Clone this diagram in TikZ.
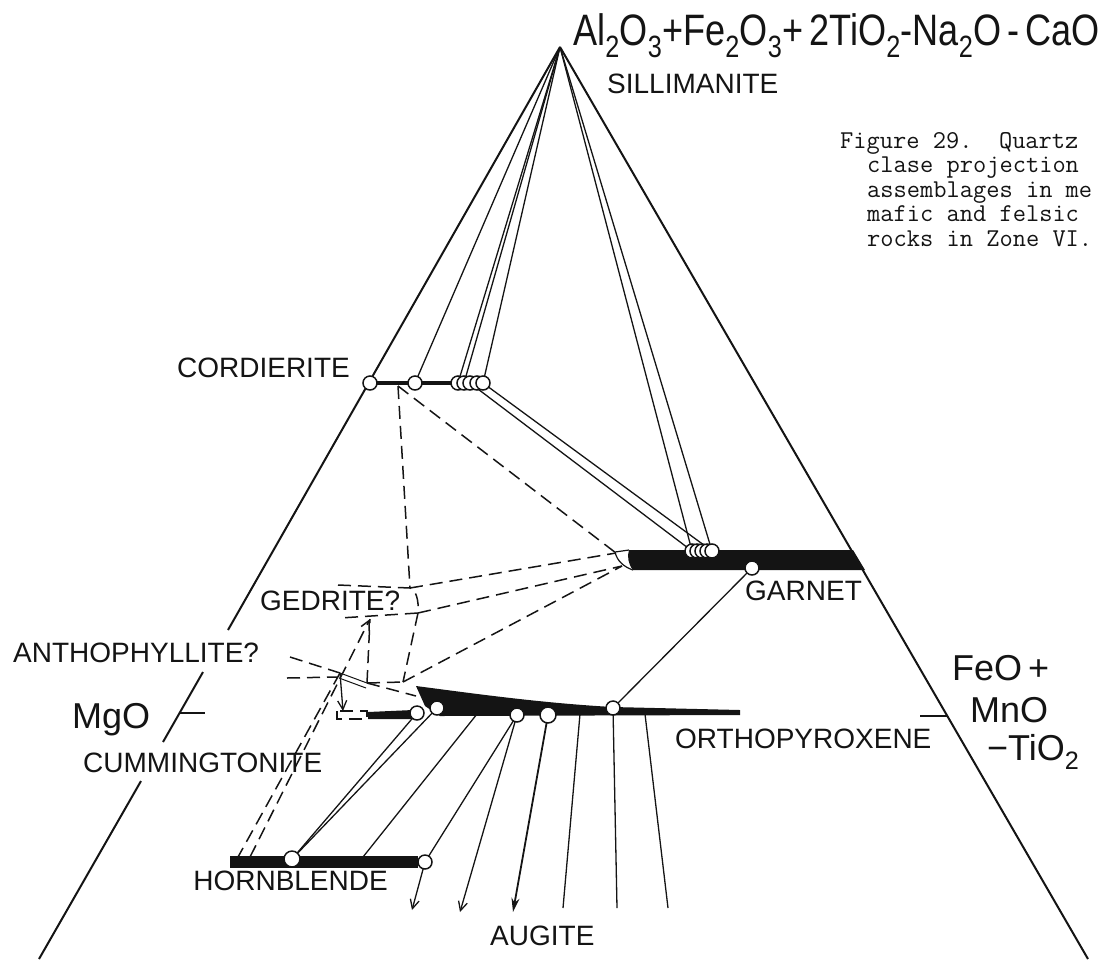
\documentclass[tikz,border=0pt]{standalone}
\usepackage{fontspec}
\setmainfont{Liberation Sans}
\usepackage{graphicx}
\usepackage{tikz}
\usetikzlibrary{arrows.meta,calc}
\definecolor{phink}{HTML}{141414}

\tikzset{
  trside/.style={phink,line width=2pt},
  tieline/.style={phink,line width=1.3pt},
  tiedash/.style={phink,line width=1.5pt,dash pattern=on 13pt off 7pt},
  minpt/.style={draw=phink,fill=white,line width=1.5pt},
  barb/.style={-{Straight Barb[length=9pt,width=9pt]}},
  phlbl/.style={font=\fontsize{28}{30}\selectfont,text=phink,inner sep=0pt,anchor=base west},
  oxlbl/.style={font=\fontsize{36}{40}\selectfont,text=phink,inner sep=0pt,anchor=base west},
  capline/.style={font=\ttfamily\fontsize{25.7}{28}\selectfont,text=phink,inner sep=0pt,anchor=base west},
}

\begin{document}
\begin{tikzpicture}[x=1pt,y=-1pt]
\useasboundingbox (0,0) rectangle (1107,959);
% 1 unit = 1 px of the scan, y runs downwards

% ── Triangle sides (left one broken by labels) ───────────────────
\coordinate (apex) at (560,47);
\draw[trside] (apex) -- (228,630);
\draw[trside] (203,672) -- (163,742);
\draw[trside] (141,781) -- (39,959);
\draw[trside] (apex) -- (1088,959);
\draw[trside] (180,713) -- (205,713);   % MgO tick
\draw[trside] (920,716) -- (947,716);   % FeO tick

% ── Mineral points ──────────────────────────────────────────────
\coordinate (crd1) at (370,383);
\coordinate (crd2) at (415,383);
\coordinate (crdA) at (458,383);
\coordinate (crdB) at (464,383);
\coordinate (crdC) at (470,383);
\coordinate (crdD) at (477,383);
\coordinate (crdE) at (483,383);
\coordinate (grtA) at (692,551);
\coordinate (grtB) at (697,551);
\coordinate (grtC) at (702,551);
\coordinate (grtD) at (707,551);
\coordinate (grtE) at (712,551);
\coordinate (grt) at (752,568);
\coordinate (cum) at (417,713);
\coordinate (opxA) at (437,708);
\coordinate (opxB) at (517,715);
\coordinate (opxC) at (548,715);
\coordinate (opxD) at (613,708);
\coordinate (hbl) at (292,859);
\coordinate (hblB) at (425,862);
% corners of the dashed fields
\coordinate (crdbar) at (398,386);
\coordinate (gedTR) at (410,588);
\coordinate (gedBR) at (418,613);
\coordinate (gedArr) at (370,619);
\coordinate (grtTip) at (616,553);
\coordinate (grtTipB) at (622,566);
\coordinate (athL) at (340,673);
\coordinate (athR) at (367,683);
\coordinate (hinge) at (403,682);

% ── Solid composition bars ──────────────────────────────────────
\draw[phink,line width=3.5pt] (crd1) -- (crd2) -- (452,383);
\fill[phink] (629,550) -- (853,550) -- (865,570) -- (633,570)
 .. controls (628,564) and (627,556) .. (629,550) -- cycle;
\draw[phink,line width=1.2pt] (629,550) -- (615,552)
 .. controls (617,561) and (624,567) .. (633,570);
\fill[phink] (416,686) .. controls (470,693) and (540,703) .. (613,707)
 -- (740,710) -- (740,715) -- (440,716) -- (425,706) -- cycle;
\fill[phink] (368,712) -- (413,710) -- (413,719) -- (368,719) -- cycle;
\fill[phink] (230,856) rectangle (418,868);

% ── Tie lines to sillimanite ────────────────────────────────────
\draw[tieline] (apex) -- (crd2);
\draw[tieline] (apex) -- (crdA);
\draw[tieline] (apex) -- (crdB);
\draw[tieline] (apex) -- (crdE);
\draw[tieline] (apex) -- (grtA);
\draw[tieline] (apex) -- (grtE);
\draw[tieline] (crdC) -- (grtA);
\draw[tieline] (crdE) -- (grtE);

% ── Tie lines among the mafic phases ────────────────────────────
\draw[tieline] (cum) -- (hbl);
\draw[tieline] (opxA) -- (hbl);
\draw[tieline] (477,714) -- (363,857);
\draw[tieline] (opxB) -- (hblB);
\draw[tieline] (opxD) -- (grt);
\draw[tieline,barb] (hblB) -- (412,910);
\draw[tieline,barb] (opxB) -- (460,912);
\draw[phink,line width=1.8pt,-{Stealth[length=14pt,width=8pt]}] (opxC) -- (513,912);
\draw[tieline] (580,714) -- (563,908);
\draw[tieline] (opxD) -- (617,908);
\draw[tieline] (645,714) -- (668,908);

% ── Dashed (uncertain) ties and fields ──────────────────────────
\draw[tiedash] (crdbar) -- (gedTR);
\draw[tiedash] (crdbar) -- (grtTip);
\draw[tiedash] (338,585) -- (gedTR)
 .. controls (416,590) and (419,600) .. (gedBR) -- (340,618);
\draw[tiedash] (gedTR) -- (grtTip);
\draw[tiedash] (gedBR) -- (grtTipB);
\draw[tiedash] (gedBR) -- (hinge);
\draw[tiedash] (hinge) -- (grtTipB);
\draw[tiedash] (athR) -- (hinge);
\draw[tiedash] (athR) -- (416,696);
\draw[tiedash] (290,657) -- (athL);
\draw[tiedash] (287,678) -- (337,677);
\draw[tiedash] (athR) -- (gedArr);
\draw[tiedash,barb] (250,857) -- (gedArr);
\draw[tiedash] (athL) -- (238,857);
\draw[tiedash] (337,711) rectangle (367,719);
% anthophyllite double stroke and arrow down to cummingtonite
\draw[tieline,line width=1pt] (athL) -- (athR);
\draw[tieline,line width=1pt] ($(athL)+(-1,5)$) -- ($(athR)+(-1,5)$);
\draw[tieline,barb] (athL) -- (343,711);

% ── Analysed points (open circles) ──────────────────────────────
\foreach \c in {crd1,crd2,crdA,crdB,crdC,crdD,crdE,
                grtA,grtB,grtC,grtD,grtE,grt,
                cum,opxA,opxB,opxD,hblB}
  \draw[minpt] (\c) circle[radius=7pt];
\draw[minpt] (opxC) circle[radius=8pt];
\draw[minpt] (hbl) circle[radius=8pt];

% ── Labels ──────────────────────────────────────────────────────
\node[phlbl,font=\fontsize{44}{46}\selectfont] (apexlbl) at (573,45)
 {\scalebox{0.82}[1]{Al\textsubscript{2}O\textsubscript{3}+Fe\textsubscript{2}O\textsubscript{3}+\,2TiO\textsubscript{2}-Na\textsubscript{2}O\,-\,CaO}};
\node[phlbl] (sillbl) at (607,93) {SILLIMANITE};
\node[phlbl,anchor=base east] (crdlbl) at (350,377) {CORDIERITE};
\node[phlbl] (grtlbl) at (745,600) {GARNET};
\node[phlbl] (gedlbl) at (260,610) {GEDRITE?};
\node[phlbl] (athlbl) at (13,662) {ANTHOPHYLLITE?};
\node[phlbl] (cumlbl) at (83,772) {CUMMINGTONITE};
\node[phlbl] (opxlbl) at (675,748) {ORTHOPYROXENE};
\node[phlbl,anchor=base east] (hbllbl) at (388,890) {HORNBLENDE};
\node[phlbl] (auglbl) at (490,945) {AUGITE};
\node[oxlbl] (mgolbl) at (72,728) {MgO};
\node[oxlbl] (feolbl) at (952,680) {FeO\,+};
\node[oxlbl] (mnolbl) at (970,722) {MnO};
\node[oxlbl] (tiolbl) at (987,760) {−TiO\textsubscript{2}};

% ── Caption (typewritten, cut at the page edge) ─────────────────
\node[capline] (fig1) at (840,148) {Figure 29.\ \ Quartz};
\node[capline] (fig2) at (867,172.5) {clase projection};
\node[capline] (fig3) at (867,197) {assemblages in me};
\node[capline] (fig4) at (867,221.5) {mafic and felsic};
\node[capline] (fig5) at (867,246) {rocks in Zone VI.};
\end{tikzpicture}
\end{document}
